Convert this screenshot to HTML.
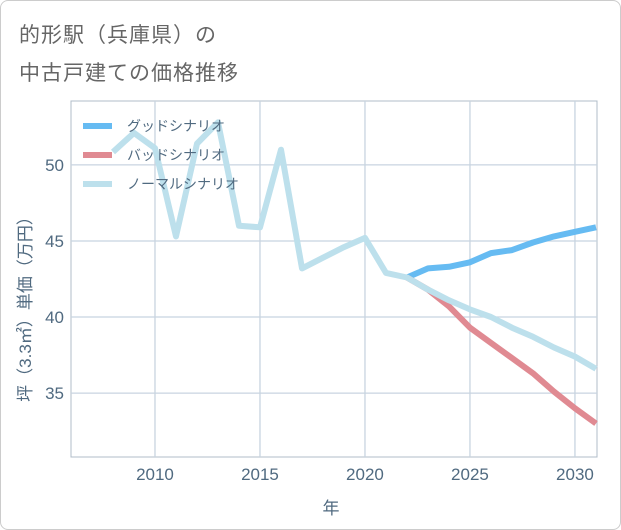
<!DOCTYPE html>
<html><head><meta charset="utf-8"><style>
body{margin:0;background:#fff;}
#card{position:absolute;left:0;top:0;width:619px;height:528px;border:1px solid #ccc;border-radius:8px;background:#fff;}
.title{position:absolute;left:18px;font:21px "Liberation Sans","Noto Sans CJK JP",sans-serif;color:#666;letter-spacing:1px;}
svg text{font-family:"Liberation Sans","Noto Sans CJK JP",sans-serif;}
</style></head><body>
<div id="card">
<div class="title" style="top:18px">的形駅（兵庫県）の</div>
<div class="title" style="top:56px">中古戸建ての価格推移</div>
</div>
<svg id="chart" width="621" height="530" style="position:absolute;left:0;top:0"></svg>
<script>
const goodYears=[2022,2023,2024,2025,2026,2027,2028,2029,2030,2031];
const goodVals=[42.6,43.2,43.3,43.6,44.2,44.4,44.9,45.3,45.6,45.9];
const badYears=[2022,2023,2024,2025,2026,2027,2028,2029,2030,2031];
const badVals=[42.6,41.8,40.7,39.3,38.3,37.3,36.3,35.1,34.0,33.0];
const normalYears=[2008,2009,2010,2011,2012,2013,2014,2015,2016,2017,2018,2019,2020,2021,2022,2023,2024,2025,2026,2027,2028,2029,2030,2031];
const normalVals=[50.85,52.1,51.1,45.3,51.4,52.8,46.0,45.9,51.0,43.2,43.9,44.6,45.2,42.9,42.6,41.8,41.1,40.5,40.0,39.3,38.7,38.0,37.4,36.6];
const xTicks=[2010,2015,2020,2025,2030];
const yTicks=[35,40,45,50];
const L=71,R=597,T=101,B=457;
const xMin=2006,xMax=2031.05,yMin=30.8,yMax=54.2;
const sx=v=>L+(v-xMin)/(xMax-xMin)*(R-L);
const sy=v=>B-(v-yMin)/(yMax-yMin)*(B-T);
const svg=document.getElementById('chart');
const NS='http://www.w3.org/2000/svg';
function mk(t,a){const e=document.createElementNS(NS,t);for(const k in a)e.setAttribute(k,a[k]);svg.appendChild(e);return e;}
let e=mk('rect',{x:L,y:T,width:R-L,height:B-T,fill:'none',stroke:'#b0bcc8','stroke-width':1});


xTicks.forEach(t=>{
 let g=mk('line',{x1:sx(t),x2:sx(t),y1:T,y2:B,stroke:'#c8d4e0','stroke-width':1.3});
 
 
 let l=mk('text',{x:sx(t),y:480,'text-anchor':'middle','font-size':17,fill:'#506a80'});l.textContent=t;
 
 
});
yTicks.forEach(t=>{
 let g=mk('line',{x1:L,x2:R,y1:sy(t),y2:sy(t),stroke:'#c8d4e0','stroke-width':1.3});
 
 
 let l=mk('text',{x:64,y:sy(t)+6,'text-anchor':'end','font-size':17,fill:'#506a80'});l.textContent=t;
 
 
});
function line(xs,ys,c,name){
 const d=xs.map((x,i)=>(i?'L':'M')+sx(x).toFixed(1)+','+sy(ys[i]).toFixed(1)).join(' ');
 let p=mk('path',{d:d,fill:'none',stroke:c,'stroke-width':6,'stroke-linejoin':'round'});
 
 
}
line(goodYears,goodVals,'#66bbf2','good-scenario-line');
line(badYears,badVals,'#e08a92','bad-scenario-line');
line(normalYears,normalVals,'#bde0ec','normal-scenario-line');
const legendNames=['グッドシナリオ','バッドシナリオ','ノーマルシナリオ'];
const legendColors=['#66bbf2','#e08a92','#bde0ec'];
legendNames.forEach((n,i)=>{
 const y=126+i*29;
 let s=mk('line',{x1:83,x2:112,y1:y,y2:y,stroke:legendColors[i],'stroke-width':6});
 
 
 let t=mk('text',{x:127,y:y+5,'font-size':14,fill:'#506a80'});t.textContent=n;
 
 
});
let xt=mk('text',{x:331,y:514,'text-anchor':'middle','font-size':17,fill:'#506a80'});xt.textContent='年';


let yt=mk('text',{x:0,y:0,'text-anchor':'middle','font-size':17,fill:'#506a80',transform:'translate(31,305) rotate(-90)'});yt.textContent='坪（3.3㎡）単価（万円）';


</script>
</body></html>
